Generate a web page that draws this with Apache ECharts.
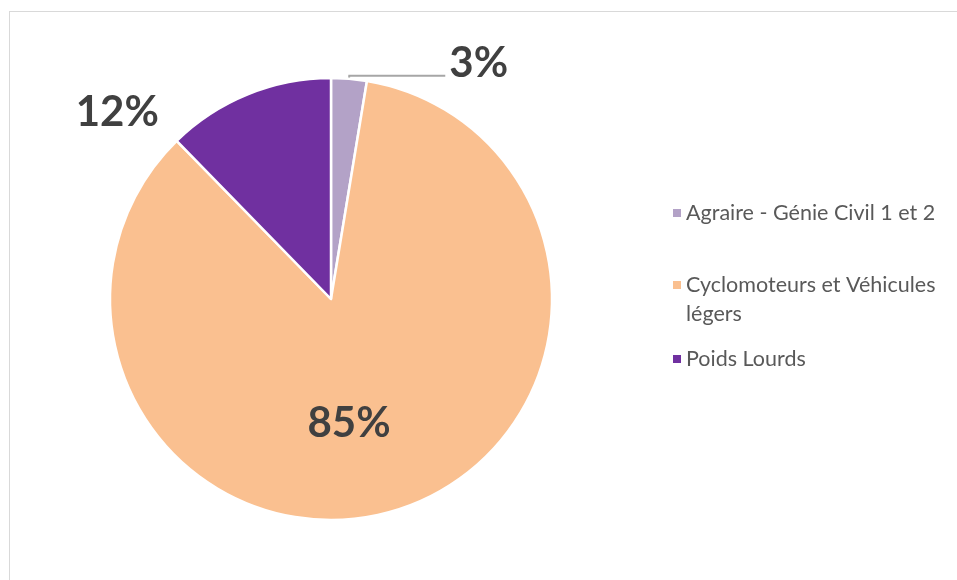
<!DOCTYPE html>
<html><head><meta charset="utf-8">
<script src="https://cdn.jsdelivr.net/npm/echarts@6/dist/echarts.min.js"></script>
<style>
html,body{margin:0;padding:0;background:#fff;}
#frame{position:absolute;left:9px;top:11px;width:960px;height:580px;border:1.5px solid #d9d9d9;box-sizing:border-box;}
#c{position:absolute;left:0;top:0;width:957px;height:580px;}
</style></head><body>
<div id="frame"></div>
<div id="c"></div>
<script>
const categories = ["Agraire - Génie Civil 1 et 2", "Cyclomoteurs et Véhicules légers", "Poids Lourds"];
const values = [2.6, 85.1, 12.3];
const colors = ["#B3A2C7", "#FAC090", "#7030A0"];

const chart = echarts.init(document.getElementById('c'), null, {renderer:'canvas'});
const FONT = 'Lato, "Open Sans", sans-serif';
const legendTops = [196, 268, 342];

const legends = categories.map((name, i) => ({
  data: [name],
  orient: 'vertical',
  left: 666,
  top: legendTops[i],
  itemWidth: 10, itemHeight: 10,
  itemGap: 6,
  icon: 'rect',
  selectedMode: false,
  formatter: n => n === categories[1] ? 'Cyclomoteurs et Véhicules' : n,
  textStyle: {color: '#595959', fontSize: 21.5, lineHeight: 24, fontFamily: FONT, padding: [0,0,0,-1]}
}));

const pctText = p => Math.round(p.value) + '%';

chart.setOption({
  animation: false,
  color: colors,
  legend: legends,
  graphic: [{
    type: 'text', x: 686, y: 314,
    style: {text: 'légers', fill: '#595959', font: '21.5px ' + FONT, verticalAlign: 'middle'}
  }],
  series: [{
    type: 'pie',
    center: [331, 299],
    radius: 221,
    startAngle: 90,
    clockwise: true,
    itemStyle: {borderColor: '#fff', borderWidth: 2.5},
    label: {
      formatter: pctText,
      color: '#404040', fontSize: 42, fontWeight: 'bold', fontFamily: FONT
    },
    labelLine: {show: false},
    emphasis: {disabled: true},
    data: categories.map((n, i) => {
      const d = {name: n, value: values[i]};
      if (i === 0) {
        d.label = {
          position: 'outside', distanceToLabelLine: 4,
          formatter: p => '{a|' + pctText(p) + '}\n{b|}',
          rich: {
            a: {color: '#404040', fontSize: 42, fontWeight: 'bold', fontFamily: FONT, lineHeight: 46},
            b: {height: 24, lineHeight: 24}
          }
        };
        d.labelLine = {show: true, length: 3, length2: 96, lineStyle: {color: '#a6a6a6', width: 2}};
      } else if (i === 1) {
        d.label = {position: 'inside', offset: [-16, 16]};
      } else {
        d.label = {position: 'inside', offset: [-171, -81]};
      }
      return d;
    })
  }]
});
</script>
</body></html>
